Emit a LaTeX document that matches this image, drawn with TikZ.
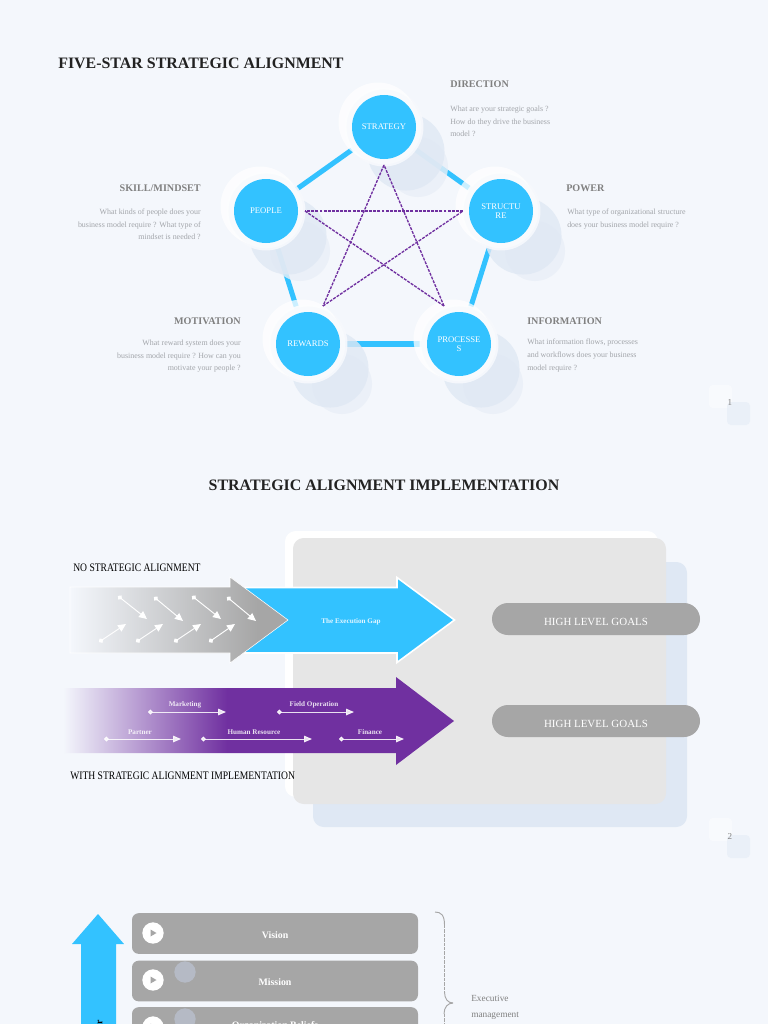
\documentclass[tikz,border=0pt]{standalone}
\usepackage{fontspec}
\setmainfont{Liberation Serif}
\newfontfamily\narrowfont[FakeStretch=0.836]{Liberation Serif}
\usetikzlibrary{arrows.meta,calc,positioning}
\definecolor{PageBg}{HTML}{F4F7FC}
\definecolor{SkyBlue}{HTML}{33C2FF}
\definecolor{DeepPurple}{HTML}{7030A0}
\definecolor{MidGrey}{HTML}{A6A6A6}
\definecolor{PanelGrey}{HTML}{E6E6E6}
\definecolor{ShadeBlue}{HTML}{DFE8F4}
\definecolor{PaleBlue}{HTML}{E9EFF7}
\definecolor{HeadGrey}{HTML}{808080}
\definecolor{BodyGrey}{HTML}{A2A5AA}
\definecolor{SoftDot}{HTML}{B5BAC5}
\definecolor{Ink}{HTML}{222222}
\pgfdeclarelayer{back}
\pgfdeclarelayer{mid}
\pgfsetlayers{back,mid,main}
\pgfdeclarehorizontalshading{greyfade}{100bp}{color(0bp)=(PageBg); color(25bp)=(PageBg); color(68bp)=(MidGrey); color(100bp)=(MidGrey)}
\pgfdeclarehorizontalshading{purplefade}{100bp}{color(0bp)=(PageBg); color(25bp)=(PageBg); color(46bp)=(DeepPurple); color(100bp)=(DeepPurple)}
\newcommand{\lowertext}[2]{\raisebox{-#1}[0pt][0pt]{#2}}
\tikzset{
  titletext/.style={text=Ink,font=\fontsize{11.95}{14}\selectfont\bfseries,anchor=west,inner sep=0pt},
  headtext/.style={text=HeadGrey,font=\fontsize{7.6}{9}\selectfont\bfseries,inner sep=0pt},
  bodytext/.style={text=BodyGrey,font=\fontsize{5.95}{9.6}\selectfont,inner sep=0pt},
  starnode/.style={circle,fill=SkyBlue,text=white,minimum size=48pt,inner sep=0pt,align=center,
    font=\fontsize{6.5}{7}\selectfont},
  starlink/.style={SkyBlue,line width=3.8pt},
  starline/.style={DeepPurple,line width=1pt,dash pattern=on 2.2pt off 0.9pt},
  flowlabel/.style={text=white,font=\fontsize{5.35}{6}\selectfont\bfseries,inner sep=0pt,opacity=0.85},
  flowarrow/.style={white,line width=0.7pt,opacity=0.85,{Circle[length=3.6pt]}-{Triangle[length=6pt,width=5pt]}},
  crossarrow/.style={white,line width=0.7pt,{Circle[length=3.6pt]}-{Triangle[length=6pt,width=5.5pt]}},
  sidetext/.style={text=black,font=\fontsize{8.6}{10}\selectfont\narrowfont,anchor=west,inner sep=0pt},
  goalpill/.style={rounded corners=12pt,fill=MidGrey,text=white,minimum width=156pt,minimum height=24pt,
    inner sep=0pt,font=\fontsize{8.2}{10}\selectfont},
  levelbox/.style={rounded corners=5pt,fill=MidGrey,text=white,minimum width=214.5pt,inner sep=0pt,
    font=\fontsize{7.4}{9}\selectfont\bfseries},
  playdot/.style={circle,fill=white,minimum size=16pt,inner sep=0pt},
  softdot/.style={circle,fill=SoftDot,minimum size=16pt,inner sep=0pt},
  bracecurve/.style={MidGrey,line width=0.7pt},
  bracedash/.style={MidGrey,line width=0.7pt,dash pattern=on 2.5pt off 0.8pt},
  notetext/.style={text=HeadGrey,font=\fontsize{7}{12}\selectfont,inner sep=0pt,anchor=north west,align=left},
}
\newcommand{\drawstarnode}[4]{%
  \begin{pgfonlayer}{mid}
    \fill[PaleBlue,opacity=0.8] ({#2+34},{#3+40}) circle (22.5pt);
    \fill[ShadeBlue,opacity=0.8] ({#2+22},{#3+25}) circle (28.9pt);
    \fill[PageBg!70!white,opacity=0.9] (#2,#3) circle (29.6pt);
    \fill[white,opacity=0.75] ({#2-6},{#3-5}) circle (29.6pt);
    \fill[PageBg!60!white] (#2,#3) circle (28pt);
  \end{pgfonlayer}
  \node[starnode] (#1) at (#2,#3) {#4};
}
\newcommand{\drawpagemark}[3]{%
  \path[fill=white,opacity=0.45,rounded corners=3pt] ({#1-21},{#2-18}) rectangle ({#1+2},{#2+5});
  \path[fill=ShadeBlue,opacity=0.45,rounded corners=3pt] ({#1-3},{#2-1}) rectangle ({#1+20},{#2+22});
  \node[text=HeadGrey,font=\fontsize{6.8}{7}\selectfont] (mark#3) at (#1,#2) {#3};
}
\begin{document}
\begin{tikzpicture}[x=0.75pt,y=-0.75pt,line cap=butt,line join=miter]
  \useasboundingbox (0,0) rectangle (768,1024);
  \begin{pgfonlayer}{back}
    \fill[PageBg] (0,0) rectangle (768,1024);
  \end{pgfonlayer}
  \clip (0,0) rectangle (768,1024);

  % five star
  \node[titletext] (titlestar) at (58,63) {FIVE-STAR STRATEGIC ALIGNMENT};
  \drawstarnode{strategy}{384}{127}{STRATEGY}
  \drawstarnode{people}{266}{211}{PEOPLE}
  \drawstarnode{structure}{501}{211}{STRUCTU\\RE}
  \drawstarnode{rewards}{308}{344}{REWARDS}
  \drawstarnode{processes}{459}{344}{PROCESSE\\S}
  \begin{pgfonlayer}{back}
    \draw[starlink] (strategy) -- (people);
    \draw[starlink] (people) -- (rewards);
    \draw[starlink] (rewards) -- (processes);
    \draw[starlink] (processes) -- (structure);
    \draw[starlink] (structure) -- (strategy);
  \end{pgfonlayer}
  \coordinate (sttop) at (384,165);
  \coordinate (stleft) at (305,211);
  \coordinate (stright) at (463,211);
  \coordinate (stlow) at (323,306);
  \coordinate (stlowr) at (444,306);
  \draw[starline] (sttop) -- (stlow);
  \draw[starline] (stlow) -- (stright);
  \draw[starline] (stright) -- (stleft);
  \draw[starline] (stleft) -- (stlowr);
  \draw[starline] (stlowr) -- (sttop);

  \node[headtext,anchor=west] (headdir) at (450,84) {DIRECTION};
  \node[bodytext,anchor=north west,align=left] (bodydir) at (450,105.5)
    {What are your strategic goals ?\\How do they drive the business\\model ?};
  \node[headtext,anchor=west] (headpow) at (566,188) {POWER};
  \node[bodytext,anchor=north west,align=left] (bodypow) at (567,208.5)
    {What type of organizational structure\\does your business model require ?};
  \node[headtext,anchor=east] (headskill) at (201,188) {SKILL/MINDSET};
  \node[bodytext,anchor=north east,align=right] (bodyskill) at (201,208.5)
    {What kinds of people does your\\business model require ? What type of\\mindset is needed ?};
  \node[headtext,anchor=east] (headmot) at (241,321) {MOTIVATION};
  \node[bodytext,anchor=north east,align=right] (bodymot) at (241,339.5)
    {What reward system does your\\business model require ? How can you\\motivate your people ?};
  \node[headtext,anchor=west] (headinfo) at (527,321) {INFORMATION};
  \node[bodytext,anchor=north west,align=left] (bodyinfo) at (527,339)
    {What information flows, processes\\and workflows does your business\\model require ?};
  \drawpagemark{730}{403}{1}

  % alignment
  \node[titletext,anchor=center] (titleimpl) at (384,485) {STRATEGIC ALIGNMENT IMPLEMENTATION};
  \path[fill=ShadeBlue,rounded corners=8pt] (313,562) rectangle (687,827);
  \path[fill=white,rounded corners=8pt] (285,531) rectangle (658,797);
  \path[fill=PanelGrey,rounded corners=8pt] (293,538) rectangle (666,804);
  \node[goalpill] (goalone) at (596,619) {\lowertext{4.9pt}{HIGH LEVEL GOALS}};
  \node[goalpill] (goaltwo) at (596,721) {\lowertext{4.9pt}{HIGH LEVEL GOALS}};

  \path[fill=SkyBlue,draw=white,line width=1.2pt]
    (240,587.5) -- (397,587.5) -- (397,577.5) -- (454.5,620) -- (397,662.5) -- (397,653) -- (240,653) -- cycle;
  \node[flowlabel] (gaplabel) at (351,622) {The Execution Gap};
  \path[shading=greyfade,draw=white,line width=0.4pt]
    (70,587) -- (230,587) -- (230,577) -- (288,620) -- (230,663) -- (230,653) -- (70,653) -- cycle;
  \foreach \i/\xa/\ya/\xb/\yb in {1/118/596/147/619,2/154/597/183/621,3/192/596/221/619,4/227/597/256/621,
      5/99/642/126/624,6/136/642/163/624,7/174/642/201/624,8/209/642/235/624}{
    \coordinate (cs\i) at (\xa,\ya);
    \coordinate (ce\i) at (\xb,\yb);
    \draw[crossarrow] (cs\i) -- (ce\i);
  }
  \path[shading=purplefade]
    (63,688) -- (396,688) -- (396,677) -- (454,721) -- (396,765) -- (396,753) -- (63,753) -- cycle;
  \foreach \i/\xa/\xb/\yy/\lx/\ttl in {1/148/226/712/185/Marketing,2/277/354/712/314/Field Operation,
      3/104/181/739/140/Partner,4/201/312/739/254/Human Resource,5/339/404/739/370/Finance}{
    \coordinate (fs\i) at (\xa,\yy);
    \coordinate (fe\i) at (\xb,\yy);
    \draw[flowarrow] (fs\i) -- (fe\i);
    \node[flowlabel] (fl\i) at (\lx,\yy-7) {\ttl};
  }
  \node[sidetext] (noalign) at (73,568) {NO STRATEGIC ALIGNMENT};
  \node[sidetext] (withalign) at (70,776) {WITH STRATEGIC ALIGNMENT IMPLEMENTATION};
  \drawpagemark{730}{836}{2}

  % levels
  \path[fill=SkyBlue] (98,914) -- (124,944) -- (116,944) -- (116,1030) -- (81,1030) -- (81,944) -- (72,944) -- cycle;
  \node[text=black,rotate=90,anchor=east,inner sep=0pt,font=\fontsize{7.4}{9}\selectfont\bfseries] (arrowtext) at (100,1020) {r};
  \node[levelbox,minimum height=30.5pt] (vision) at (275,933.5) {\lowertext{3.4pt}{Vision}};
  \node[levelbox,minimum height=30.5pt] (mission) at (275,981) {\lowertext{3pt}{Mission}};
  \node[levelbox,minimum height=30.5pt] (beliefs) at (275,1027.5) {\lowertext{0.4pt}{Organization Beliefs}};
  \node[playdot] (playa) at (153,933) {};
  \node[playdot] (playb) at (153,980) {};
  \node[playdot] (playc) at (153,1027) {};
  \foreach \p in {playa,playb,playc}{
    \fill[MidGrey] ($(\p)+(-2.5,-3.5)$) -- ($(\p)+(3.5,0)$) -- ($(\p)+(-2.5,3.5)$) -- cycle;
  }
  \node[softdot] (softa) at (185,972) {};
  \node[softdot] (softb) at (185,1019) {};

  \coordinate (bracetop) at (435,912);
  \coordinate (bracetip) at (453,1003);
  \coordinate (braceend) at (444,1030);
  \draw[bracecurve] (bracetop) .. controls (441,912) and (444.5,915) .. (444.5,925);
  \draw[bracedash] (444.5,925) -- (444.5,992);
  \draw[bracecurve] (444.5,992) .. controls (444.5,999) and (448,1003) .. (bracetip);
  \draw[bracecurve] (bracetip) .. controls (448,1003) and (444,1007) .. (444,1014);
  \draw[bracedash] (444,1014) -- (braceend);
  \node[notetext] (execnote) at (471,995) {Executive\\management};
\end{tikzpicture}
\end{document}
